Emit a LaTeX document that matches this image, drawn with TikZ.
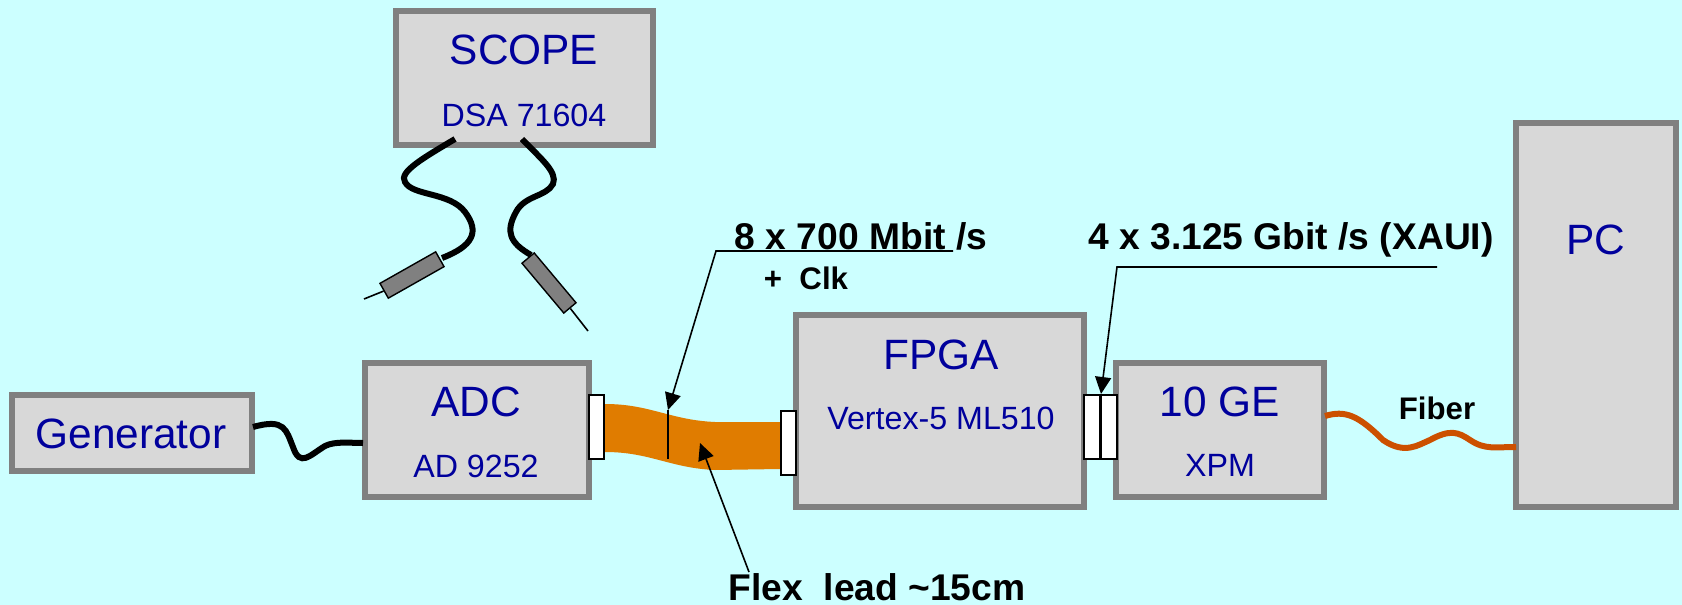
\documentclass[tikz,border=0pt]{standalone}
\usepackage{fontspec}
\setmainfont{Liberation Sans}
\usetikzlibrary{arrows.meta}
\definecolor{bgCyan}{HTML}{CCFFFF}
\definecolor{boxGray}{HTML}{D8D8D8}
\definecolor{rimGray}{HTML}{808080}
\definecolor{txtBlue}{HTML}{00009C}
\definecolor{flexOrange}{HTML}{E07C00}
\definecolor{fiberRed}{HTML}{CC5000}
\newcommand{\bigBlue}{\fontsize{21.2}{24}\selectfont}
\newcommand{\smallBlue}{\fontsize{16.1}{20}\selectfont}
\newcommand{\noteSize}{\fontsize{18.6}{22}\selectfont}

\begin{document}
\begin{tikzpicture}[x=0.5pt,y=-0.5pt]
	\tikzset{>={Triangle[length=8.5pt,width=8pt]}}
	\tikzset{unitBox/.style={draw=rimGray,fill=boxGray,line width=3pt,inner sep=0pt}}
	\tikzset{titleTxt/.style={text=txtBlue,font=\bigBlue,inner sep=0pt}}
	\tikzset{subTxt/.style={text=txtBlue,font=\smallBlue,inner sep=0pt}}
	\tikzset{noteTxt/.style={font=\noteSize\bfseries,inner sep=0pt}}
	\tikzset{tinyTxt/.style={font=\fontsize{15.6}{18}\selectfont\bfseries,inner sep=0pt}}
	\tikzset{plugBox/.style={draw,fill=white,line width=1pt,minimum width=7.5pt,minimum height=32pt,inner sep=0pt}}
	\tikzset{cable/.style={line width=3pt,line cap=round}}
	\tikzset{probeBody/.style={draw,fill=rimGray,line width=0.7pt,inner sep=0pt}}
	\tikzset{leader/.style={line width=0.8pt}}

	\fill[bgCyan] (0,0) rectangle (1682,605);
	\useasboundingbox (0,0) rectangle (1682,605);

	% Draw the boxes
	\node (rectScope) at (524.5,78) [unitBox,minimum width=128.5pt,minimum height=67pt] {};
	\node (rectGen) at (132,433) [unitBox,minimum width=120pt,minimum height=38pt] {};
	\node (rectADC) at (476.5,430) [unitBox,minimum width=112pt,minimum height=67pt] {};
	\node (rectFPGA) at (940,411) [unitBox,minimum width=144pt,minimum height=96pt] {};
	\node (rectGE) at (1220,430) [unitBox,minimum width=104pt,minimum height=67pt] {};
	\node (rectPC) at (1596,315) [unitBox,minimum width=80pt,minimum height=192pt] {};

	% Annotate the boxes
	\node (scope_t) at (524,50) [titleTxt] {SCOPE};
	\node (scope_s) at (524,115) [subTxt] {DSA 71604};
	\node (gen_t) at (131,434) [titleTxt] {Generator};
	\node (adc_t) at (476,402) [titleTxt] {ADC};
	\node (adc_s) at (476,466) [subTxt] {AD 9252};
	\node (fpga_t) at (941,355) [titleTxt] {FPGA};
	\node (fpga_s) at (941,418) [subTxt] {Vertex-5 ML510};
	\node (ge_t) at (1220,402) [titleTxt] {10 GE};
	\node (ge_s) at (1220,465) [subTxt] {XPM};
	\node (pc_t) at (1596,240) [titleTxt] {PC};

	% Flex lead between the plugs
	\fill[flexOrange] (605,404) .. controls (650,404) and (670,420) .. (715,422) -- (780,422)
		-- (780,469) -- (715,470) .. controls (670,468) and (650,452) .. (605,452) -- cycle;
	\node (plugADC) at (596.5,426.5) [plugBox] {};
	\node (plugFPGA) at (788.5,442.5) [plugBox] {};
	\node (plugA) at (1092,426.5) [plugBox,minimum width=8pt] {};
	\node (plugB) at (1109,426.5) [plugBox,minimum width=8pt] {};

	% Cables
	\coordinate (genOut) at (253,427);
	\coordinate (adcIn) at (363,443);
	\draw[cable,line cap=butt] (genOut) .. controls (285,418) and (286,430) .. (293,447)
		.. controls (300,468) and (310,455) .. (325,446) .. controls (335,441) and (350,443) .. (adcIn);
	\coordinate (geOut) at (1325,416);
	\coordinate (pcIn) at (1516,447);
	\draw[cable,draw=fiberRed,line cap=butt] (geOut) .. controls (1345,410) and (1358,415) .. (1383,440)
		.. controls (1405,455) and (1418,445) .. (1430,440) .. controls (1450,429) and (1458,432) .. (1470,440)
		.. controls (1485,450) and (1495,447) .. (pcIn);

	% Scope probes
	\node (probeL) at (412,275) [probeBody,rotate=29.5,minimum width=32pt,minimum height=8.5pt] {};
	\node (probeR) at (549,283) [probeBody,rotate=-50,minimum width=32.5pt,minimum height=8pt] {};
	\coordinate (scopeL) at (455,139);
	\coordinate (scopeR) at (522,139);
	\coordinate (tipL) at (364,299);
	\coordinate (tipR) at (588,331);
	\draw[cable,line cap=butt] (scopeL) .. controls (425,157) and (398,172) .. (405,182)
		.. controls (412,196) and (450,192) .. (465,212) .. controls (480,232) and (473,246) .. (442,258);
	\draw[cable,line cap=butt] (scopeR) .. controls (540,158) and (558,172) .. (553,184)
		.. controls (546,197) and (525,195) .. (516,212) .. controls (505,232) and (510,243) .. (531,255);
	\draw[line width=0.8pt] (probeL.west) -- (tipL);
	\draw[line width=0.8pt] (probeR.east) -- (tipR);

	% Notes with their leaders
	\node (rate8) at (861,236) [noteTxt] {8 x 700 Mbit /s};
	\node (clk) at (806,278) [tinyTxt] {+\ \ Clk};
	\node (rate4) at (1291,240) [noteTxt] {4 x 3.125 Gbit /s (XAUI)};
	\node (fiber) at (1437,408) [tinyTxt] {Fiber};
	\node (flex) at (877,587) [noteTxt] {Flex\ \ lead \char`~15cm};

	\coordinate (rateEnd) at (953,251);
	\coordinate (rateBend) at (716,251);
	\coordinate (ribTop) at (668,410);
	\coordinate (ribBot) at (668,459);
	\draw[leader] (ribTop) -- (ribBot);
	\draw[leader,->] (rateEnd) -- (rateBend) -- (ribTop);
	\coordinate (flexFoot) at (749,572);
	\coordinate (flexTip) at (700,443);
	\draw[leader,->] (flexFoot) -- (flexTip);
	\coordinate (xauiEnd) at (1437,267);
	\coordinate (xauiBend) at (1117,267);
	\coordinate (xauiTip) at (1101,394);
	\draw[leader,->] (xauiEnd) -- (xauiBend) -- (xauiTip);
\end{tikzpicture}
\end{document}
